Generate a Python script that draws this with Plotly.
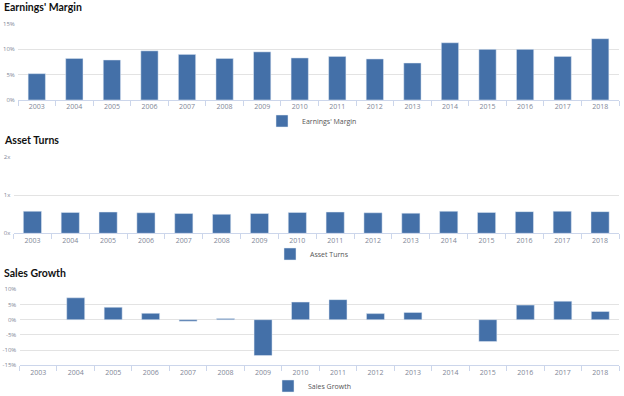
import plotly.graph_objects as go

years = [str(y) for y in range(2003, 2019)]
earnings_margin = [5.2, 8.2, 7.9, 9.7, 9.0, 8.2, 9.5, 8.3, 8.6, 8.1, 7.3, 11.3, 10.0, 10.0, 8.6, 12.1]
asset_turns = [0.58, 0.55, 0.56, 0.54, 0.52, 0.50, 0.52, 0.55, 0.56, 0.54, 0.53, 0.58, 0.55, 0.57, 0.58, 0.57]
sales_growth = [None, 7.2, 4.1, 2.1, -0.5, 0.4, -11.8, 5.8, 6.6, 2.0, 2.4, None, -7.2, 4.8, 6.1, 2.7]

em_ticks = [0, 5, 10, 15]
at_ticks = [0, 1, 2]
sg_ticks = [-15, -10, -5, 0, 5, 10]

BAR = "#4470a8"
GRID = "#e3e3e3"
TICKC = "#7f8797"
W, H = 624, 396

def py(px):
    return 1 - px / H

fig = go.Figure()
fig.add_trace(go.Bar(x=years, y=earnings_margin, name="Earnings' Margin", marker_color=BAR,
                     width=0.46, xaxis="x", yaxis="y", legend="legend"))
fig.add_trace(go.Bar(x=years, y=asset_turns, name="Asset Turns", marker_color=BAR,
                     width=0.48, xaxis="x2", yaxis="y2", legend="legend2"))
fig.add_trace(go.Bar(x=years, y=sales_growth, name="Sales Growth", marker_color=BAR,
                     width=0.48, xaxis="x3", yaxis="y3", legend="legend3"))

xtickfont = dict(family="Open Sans, Arial", size=7, color=TICKC)
ytickfont = dict(family="Open Sans, Arial", size=6, color=TICKC)

def xax(dom, anchor):
    return dict(domain=dom, anchor=anchor, type="category", tickson="boundaries",
                ticks="outside", ticklen=5, tickcolor="#ccd6eb", showline=True,
                linecolor="#ccd6eb", linewidth=1, showgrid=False, tickfont=xtickfont,
                fixedrange=True, automargin=False)

def yax(dom, anchor, rng, tv, tt):
    return dict(domain=dom, anchor=anchor, range=rng, tickvals=tv, ticktext=tt,
                showgrid=True, gridcolor=GRID, gridwidth=1, zeroline=False,
                tickfont=ytickfont, ticks="outside", ticklen=1, tickcolor="#ffffff",
                showline=False, fixedrange=True, automargin=False)

def leg(ypx):
    return dict(x=0.5, xanchor="center", y=py(ypx), yanchor="middle", orientation="h",
                font=dict(family="Open Sans, Arial", size=7, color="#555555"),
                bgcolor="rgba(0,0,0,0)", itemwidth=30, tracegroupgap=0)

fig.update_layout(
    width=W, height=H,
    margin=dict(l=0, r=0, t=0, b=0, autoexpand=False),
    paper_bgcolor="white", plot_bgcolor="white",
    xaxis=xax([18 / W, 619 / W], "y"),
    yaxis=yax([py(100), py(24)], "x", [0, 15], em_ticks, [f"{v}%" for v in em_ticks]),
    xaxis2=xax([13.5 / W, 619 / W], "y2"),
    yaxis2=yax([py(233.3), py(157.3)], "x2", [0, 2], at_ticks, [f"{v}x" for v in at_ticks]),
    xaxis3=xax([19.5 / W, 619 / W], "y3"),
    yaxis3=yax([py(365.3), py(289.3)], "x3", [-15, 10], sg_ticks, [f"{v}%" for v in sg_ticks]),
    legend=leg(121),
    legend2=leg(254),
    legend3=leg(386),
    showlegend=True,
)

titles = [("Earnings' Margin", 7), ("Asset Turns", 140), ("Sales Growth", 273)]
for t, yy in titles:
    fig.add_annotation(text=f"<b>{t}</b>", x=2 / W, xanchor="left", y=py(yy), yanchor="middle",
                       xref="paper", yref="paper", showarrow=False,
                       font=dict(family="Lato, Open Sans", size=10.5, color="#111111"))

fig.write_html("out.html", config={"displayModeBar": False},
               post_script="document.body.style.margin='0';document.body.style.overflow='hidden';")
